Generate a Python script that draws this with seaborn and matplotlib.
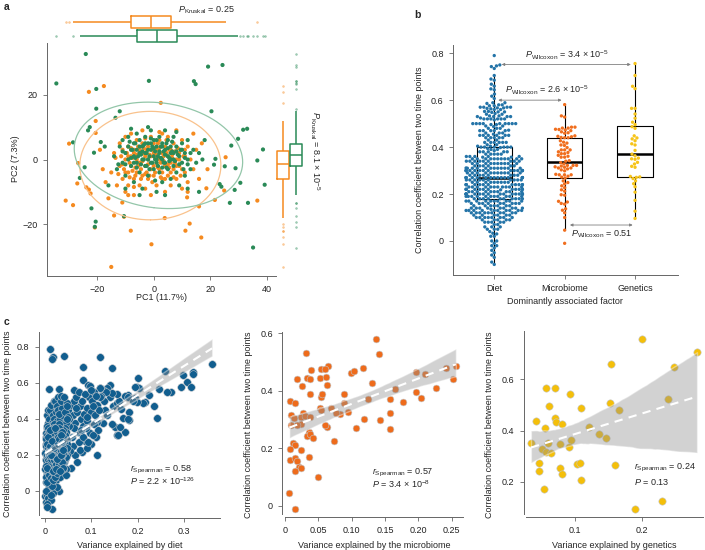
import numpy as np
import pandas as pd
import matplotlib
matplotlib.use('Agg')
import matplotlib.pyplot as plt
import seaborn as sns

# colours
ORANGE = '#F58A1F'
GREEN = '#2A8A57'
DIET = '#115E8F'
MICRO = '#EE6B1B'
GENE = '#F4BF0A'
SWARM = ['#2474A8', '#F06E1E', '#F6C41A']

# ---- panel a: PC1 / PC2 of the two groups ----
pc_orange = np.array([
    (-15, -4), (-14, 2), (-13, -8), (-12, 5), (-12, -2), (-11, -6), (-11, 3), (-10, -10), (-10, 0), (-10, 7),
    (-9, -4), (-9, 4), (-9, -8), (-8, 1), (-8, -2), (-8, 8), (-7, -6), (-7, 3), (-7, -11), (-6, 0),
    (-6, 6), (-6, -4), (-5, -8), (-5, 2), (-5, -1), (-4, 5), (-4, -5), (-4, 9), (-3, -2), (-3, 1),
    (-3, -9), (-2, 4), (-2, -6), (-2, 0), (-1, 7), (-1, -3), (-1, -11), (0, 2), (0, -5), (0, 5),
    (1, -1), (1, -8), (1, 3), (2, 6), (2, -3), (2, 0), (3, -6), (3, 8), (3, 2), (4, -2),
    (4, 4), (4, -10), (5, 1), (5, -5), (5, 7), (6, -1), (6, 3), (6, -8), (7, 5), (7, -3),
    (8, 0), (8, -6), (8, 9), (9, 2), (9, -2), (10, 6), (10, -9), (11, 1), (11, -4), (12, 4),
    (12, -7), (13, 0), (14, -3), (15, 3), (16, -6),
    (-13.5, 0.5), (-12.5, -4.5), (-11.5, 1), (-10.5, -3), (-9.5, 2), (-8.5, -5.5), (-7.5, 0.5), (-6.5, -2.5),
    (-5.5, 4), (-4.5, -3), (-3.5, 3.5), (-2.5, -4), (-1.5, 1.5), (-0.5, -7), (0.5, 0.5), (1.5, 5),
    (2.5, -5.5), (3.5, -0.5), (4.5, 6), (5.5, -2.5), (6.5, 1.5), (7.5, -1), (8.5, 3.5), (9.5, -5),
    (10.5, 1), (-7, -8.5), (-3, 6.5), (2, 8.5), (-9, -11), (12, -10),
    (-11, -1.5), (-10, -4), (-9, 1), (-8.5, -1), (-8, 3.5), (-7.5, -3.5), (-7, 2), (-6.5, -5),
    (-6, 1.5), (-5.5, -2), (-5, 3), (-4.5, -6), (-4, -0.5), (-3.5, 2), (-3, -4.5), (-2.5, 3),
    (-2, -1.5), (-1.5, -5), (-1, 1), (-0.5, 3), (0, -2), (0.5, -4), (1, 1.5), (1.5, -2.5),
    (2, 3.5), (2.5, -1), (3, -4), (3.5, 1), (4, -6), (4.5, 2), (5, -1.5), (5.5, 3),
    (6, -4), (6.5, 0.5), (7, -5.5), (7.5, 2.5), (8, -2), (9, 0), (10, -3), (11, 3),
    (-22.9, 20.9), (-17.6, 22.7), (-20.5, 8.2), (-29.9, 4.9), (-26.7, -1.1), (-27, -7.4), (-31.1, -12.7),
    (-28.5, -14.1), (-23.8, -8.6), (-22.9, -9.3), (-22.3, -10.5), (-14, -17.3), (-20.8, -21), (-8.1, -22),
    (-0.8, -26.2), (-15, -33.2), (-10.5, -17.7), (-11.1, -13.3), (2.5, 17.5), (25.4, 0.7), (24.9, -9.6),
    (21.6, -12.5), (36.6, -12.7), (16, -14.5), (12.7, -19.8), (11.2, -22), (16.8, -24.1), (3.9, -18.1),
    (11.8, -11.7), (18.6, -8.9), (-20.5, 11.9), (-18, -3), (-19, 3), (-17, -7), (17, 5), (19, -3),
    (14, 8), (-16, -12),
])
pc_green = np.array([
    (-14, 1), (-13, -3), (-12, 4), (-11, -1), (-11, 6), (-10, 2), (-10, -5), (-9, 0), (-9, 7), (-8, 3),
    (-8, -2), (-7, 5), (-7, -7), (-7, 1), (-6, -1), (-6, 8), (-6, 3), (-5, 2), (-5, -4), (-5, 6),
    (-4, 0), (-4, 4), (-4, -9), (-3, 2), (-3, -2), (-3, 7), (-2, 5), (-2, 0), (-2, -5), (-1, 3),
    (-1, -1), (-1, 9), (0, 1), (0, 6), (0, -3), (1, 4), (1, -1), (1, -10), (2, 2), (2, 7),
    (2, -4), (3, 0), (3, 5), (3, -7), (4, 3), (4, -1), (4, 9), (5, 1), (5, 6), (5, -3),
    (6, 4), (6, -6), (6, 0), (7, 2), (7, 7), (7, -2), (8, -4), (8, 4), (9, 1), (9, -8),
    (10, 5), (10, -1), (11, 2), (11, -5), (12, 6), (12, 0), (13, -3), (14, 3), (15, -1), (16, 2),
    (-12.5, -1.5), (-8.5, 5.5), (-6.5, 0.5), (-4.5, 1.5), (-3.5, 4.5), (-2.5, 2), (-1.5, -3), (-0.5, 4),
    (0.5, 2.5), (1.5, 1), (2.5, 4), (3.5, 2.5), (4.5, 5), (5.5, 0.5), (6.5, 2.5), (7.5, -0.5),
    (8.5, 1.5), (9.5, 3), (10.5, -3), (-10, -9), (-5, -11), (0.5, -6.5), (4, -11), (8, 8.5),
    (-2, 10), (12, -9), (-8, 9.5), (3, -2.5), (-1, 6.5), (1, 0),
    (-11, 2.5), (-10, -1.5), (-9, 4), (-8, 0.5), (-7.5, 3), (-7, -1), (-6.5, 5), (-6, -2.5),
    (-5.5, 1), (-5, 4), (-4.5, -1.5), (-4, 2.5), (-3.5, 0), (-3, 5), (-2.5, -2), (-2, 3),
    (-1.5, 1), (-1, 5), (-0.5, -1), (0, 3.5), (0.5, 0), (1, 6), (1.5, -2), (2, 2.5),
    (2.5, 0.5), (3, 4), (3.5, -1), (4, 1.5), (4.5, -2.5), (5, 3.5), (5.5, -0.5), (6, 2),
    (6.5, 5.5), (7, 0), (8, 2.5), (9, -1.5), (10, 3), (11, 0.5), (12, -1.5), (13, 2),
    (-24, 32.6), (-34.4, 23.5), (-20.3, 21.8), (-1.7, 24.3), (-20.3, 15.7), (-13.5, 12.9), (-12, 14.9),
    (-22.6, 10), (-23.2, 9), (-28.5, 5.3), (-24.4, -2.4), (-26.1, -5.7), (-22, -15.1), (-20.5, -19.2),
    (-20.8, -20.8), (-10.5, -17.5), (-17.3, 4), (-18.7, 5.4), (-21.1, 2.1), (19.2, 28.7), (24.3, 29.2),
    (14.2, 24.2), (14.8, 23.3), (20.4, 14.9), (31.6, 9.2), (33, 9.5), (29.8, 6.4), (27.4, 4.3),
    (38.6, 3.1), (21.8, 0.2), (21.3, -1.6), (25.1, -2.1), (36.6, -0.3), (28.9, -2.7), (23.3, -7.6),
    (23.9, -8.4), (28.6, -9.4), (30.6, -7.2), (39.2, -7.8), (26.9, -13.4), (33.3, -13.4), (35.1, -27.2),
    (17.2, 0), (18, 6), (-16, -8), (16, -10),
])

# ---- panels b and c: (variance explained, correlation between time points) ----
diet_pts = np.array([
    # high variance explained
    (0.36, 0.705), (0.32, 0.66), (0.318, 0.648), (0.259, 0.668), (0.298, 0.644), (0.305, 0.607),
    (0.315, 0.576), (0.293, 0.576), (0.272, 0.552), (0.262, 0.548), (0.246, 0.567), (0.201, 0.626),
    (0.198, 0.58), (0.203, 0.57), (0.224, 0.533), (0.216, 0.496), (0.212, 0.487), (0.18, 0.533),
    (0.194, 0.516), (0.198, 0.496), (0.236, 0.472), (0.241, 0.404), (0.181, 0.44), (0.181, 0.394),
    (0.173, 0.33), (0.151, 0.357), (0.155, 0.311), (0.158, 0.31), (0.162, 0.357), (0.169, 0.404),
    (0.18, 0.398), (0.147, 0.47), (0.155, 0.49), (0.16, 0.5), (0.172, 0.53), (0.18, 0.52),
    (0.155, 0.54), (0.14, 0.589), (0.133, 0.57), (0.126, 0.563), (0.145, 0.685), (0.14, 0.524),
    (0.144, 0.543), (0.131, 0.552), (0.194, 0.58), (0.12, 0.57), (0.13, 0.45), (0.125, 0.38),
    (0.135, 0.42), (0.145, 0.37), (0.128, 0.5), (0.122, 0.53), (0.165, 0.455), (0.19, 0.5),
    # middle
    (0.119, 0.743), (0.083, 0.69), (0.082, 0.617), (0.094, 0.589), (0.097, 0.586), (0.119, 0.57),
    (0.112, 0.2), (0.08, 0.218), (0.112, 0.385),
    (0.05, 0.45), (0.055, 0.48), (0.06, 0.42), (0.062, 0.5), (0.065, 0.38), (0.068, 0.52), (0.07, 0.44),
    (0.072, 0.33), (0.075, 0.47), (0.078, 0.4), (0.08, 0.5), (0.082, 0.36), (0.085, 0.43), (0.087, 0.28),
    (0.09, 0.46), (0.092, 0.39), (0.095, 0.52), (0.097, 0.32), (0.1, 0.44), (0.1, 0.26), (0.102, 0.5),
    (0.105, 0.37), (0.107, 0.55), (0.108, 0.42), (0.11, 0.3), (0.112, 0.48), (0.115, 0.34), (0.117, 0.45),
    (0.118, 0.52), (0.058, 0.3), (0.06, 0.25), (0.063, 0.35), (0.066, 0.2), (0.07, 0.16), (0.073, 0.27),
    (0.076, 0.23), (0.083, 0.3), (0.088, 0.35), (0.09, 0.24), (0.093, 0.27), (0.052, 0.36), (0.054, 0.22),
    (0.057, 0.13), (0.064, 0.56), (0.074, 0.55), (0.086, 0.54), (0.099, 0.56), (0.104, 0.47), (0.11, 0.53),
    (0.052, 0.4), (0.067, 0.46), (0.079, 0.34), (0.091, 0.41), (0.103, 0.31),
    # low variance explained
    (0.011, 0.79), (0.018, 0.746), (0.015, 0.735), (0.042, 0.75), (0.009, 0.567), (0.031, 0.565),
    (0.015, -0.1), (0.001, -0.03), (0.003, -0.06), (0.03, 0.0), (0.011, 0.033), (0.026, 0.135), (0.033, 0.1),
    (0.002, 0.05), (0.003, 0.12), (0.004, 0.2), (0.005, 0.28), (0.006, 0.35), (0.004, 0.42), (0.007, 0.45),
    (0.005, -0.02), (0.008, 0.08), (0.006, 0.16), (0.009, 0.24), (0.007, 0.31), (0.008, 0.38), (0.003, 0.26),
    (0.009, 0.02), (0.01, 0.14), (0.006, 0.1), (0.008, 0.21), (0.004, 0.33), (0.01, 0.4), (0.002, 0.18),
    (0.007, -0.04), (0.009, 0.3), (0.005, 0.07),
    (0.011, 0.22), (0.012, 0.05), (0.013, 0.3), (0.012, 0.45), (0.014, 0.15), (0.015, 0.38), (0.016, 0.26),
    (0.017, -0.01), (0.013, 0.1), (0.018, 0.33), (0.019, 0.19), (0.014, 0.48), (0.016, 0.08), (0.011, 0.36),
    (0.018, 0.42), (0.02, 0.27), (0.015, 0.21), (0.017, 0.12), (0.012, 0.17), (0.019, 0.5), (0.013, 0.25),
    (0.016, 0.34), (0.02, 0.04), (0.014, -0.05), (0.018, 0.16), (0.011, 0.28),
    (0.021, 0.18), (0.022, 0.32), (0.023, 0.09), (0.024, 0.44), (0.025, 0.24), (0.026, 0.36), (0.027, 0.14),
    (0.028, 0.29), (0.022, 0.5), (0.029, 0.21), (0.021, 0.4), (0.024, 0.06), (0.026, 0.47), (0.023, 0.26),
    (0.028, 0.11), (0.03, 0.33), (0.025, 0.17), (0.027, 0.39), (0.029, 0.52), (0.022, 0.23), (0.03, 0.19),
    (0.024, 0.31), (0.026, 0.02), (0.028, 0.45),
    (0.031, 0.28), (0.032, 0.15), (0.033, 0.4), (0.034, 0.22), (0.035, 0.35), (0.036, 0.1), (0.037, 0.46),
    (0.038, 0.3), (0.039, 0.18), (0.034, 0.5), (0.032, 0.08), (0.036, 0.25), (0.038, 0.42), (0.04, 0.2),
    (0.033, 0.34), (0.037, 0.13), (0.035, 0.53), (0.039, 0.37), (0.031, 0.43), (0.04, 0.27),
    (0.041, 0.32), (0.042, 0.16), (0.043, 0.44), (0.044, 0.24), (0.045, 0.38), (0.046, 0.12), (0.047, 0.49),
    (0.048, 0.29), (0.049, 0.2), (0.05, 0.41), (0.043, 0.35), (0.045, 0.09), (0.047, 0.26), (0.049, 0.47),
    (0.042, 0.52), (0.046, 0.33), (0.044, 0.18), (0.048, 0.4),
    (0.003, 0.22), (0.005, 0.15), (0.007, 0.27), (0.009, 0.19), (0.011, 0.11), (0.013, 0.2), (0.015, 0.29),
    (0.017, 0.23), (0.019, 0.13), (0.021, 0.26), (0.023, 0.16), (0.025, 0.3), (0.027, 0.22), (0.029, 0.15),
    (0.031, 0.2), (0.033, 0.27), (0.035, 0.17), (0.037, 0.23), (0.039, 0.28), (0.041, 0.21), (0.004, 0.09),
    (0.006, 0.24), (0.008, 0.14), (0.01, 0.3), (0.012, 0.24), (0.014, 0.27), (0.016, 0.18), (0.018, 0.25),
    (0.02, 0.14), (0.022, 0.28), (0.024, 0.2), (0.026, 0.25), (0.028, 0.18), (0.03, 0.24), (0.032, 0.3),
    (0.034, 0.14), (0.036, 0.19), (0.038, 0.26), (0.04, 0.16), (0.045, 0.23), (0.002, 0.0), (0.006, -0.07),
    (0.01, 0.06), (0.013, -0.02), (0.016, 0.03), (0.004, -0.09),
    (0.001, 0.12), (0.002, 0.3), (0.003, 0.17), (0.005, 0.23), (0.006, 0.32), (0.007, 0.13), (0.008, 0.27),
    (0.009, 0.1), (0.011, 0.19), (0.012, 0.29), (0.013, 0.14), (0.014, 0.23), (0.015, 0.09), (0.016, 0.31),
    (0.017, 0.17), (0.018, 0.21), (0.019, 0.27), (0.02, 0.1), (0.021, 0.31), (0.022, 0.13), (0.023, 0.2),
    (0.024, 0.27), (0.025, 0.12), (0.026, 0.21), (0.027, 0.3), (0.028, 0.16), (0.029, 0.25), (0.03, 0.12),
    (0.031, 0.17), (0.032, 0.24), (0.033, 0.19), (0.034, 0.31), (0.035, 0.22), (0.036, 0.29), (0.037, 0.18),
    (0.038, 0.21), (0.039, 0.12), (0.041, 0.27), (0.043, 0.2), (0.044, 0.31), (0.046, 0.19), (0.048, 0.24),
    (0.005, 0.36), (0.01, 0.34), (0.015, 0.35), (0.02, 0.37), (0.025, 0.34), (0.03, 0.37), (0.035, 0.3),
    (0.04, 0.34),
    (0.001, 0.21), (0.002, 0.25), (0.003, 0.08), (0.003, 0.32), (0.004, 0.14), (0.004, 0.27), (0.005, 0.19),
    (0.005, 0.31), (0.006, 0.05), (0.006, 0.2), (0.007, 0.17), (0.007, 0.35), (0.008, 0.11), (0.008, 0.24),
    (0.009, 0.16), (0.009, 0.33), (0.01, 0.09), (0.01, 0.22), (0.011, 0.15), (0.011, 0.32), (0.012, 0.12),
    (0.012, 0.21), (0.013, 0.07), (0.013, 0.34), (0.014, 0.18), (0.014, 0.29), (0.015, 0.13), (0.015, 0.25),
    (0.016, 0.22), (0.016, 0.11), (0.017, 0.28), (0.017, 0.06), (0.018, 0.19), (0.018, 0.35), (0.019, 0.1),
    (0.019, 0.23), (0.02, 0.17), (0.02, 0.31), (0.021, 0.12), (0.021, 0.22), (0.022, 0.19), (0.022, 0.08),
    (0.023, 0.29), (0.023, 0.35), (0.024, 0.15), (0.024, 0.23), (0.025, 0.2), (0.025, 0.27), (0.026, 0.1),
    (0.026, 0.29), (0.027, 0.18), (0.027, 0.33), (0.028, 0.22), (0.028, 0.13), (0.029, 0.3), (0.029, 0.17),
    (0.03, 0.27), (0.03, 0.15), (0.031, 0.22), (0.031, 0.35), (0.032, 0.19), (0.032, 0.27), (0.033, 0.13),
    (0.033, 0.23), (0.034, 0.26), (0.034, 0.17), (0.035, 0.2), (0.035, 0.33), (0.036, 0.14), (0.036, 0.22),
    (0.037, 0.29), (0.037, 0.2), (0.038, 0.16), (0.038, 0.33), (0.039, 0.24), (0.039, 0.21), (0.04, 0.3),
    (0.04, 0.13), (0.002, 0.14), (0.003, 0.29), (0.005, 0.26), (0.006, 0.13), (0.008, 0.3), (0.009, 0.2),
    (0.011, 0.25), (0.012, 0.34), (0.014, 0.2), (0.016, 0.28), (0.018, 0.11), (0.02, 0.24), (0.022, 0.35),
    (0.024, 0.12), (0.026, 0.18), (0.028, 0.26), (0.03, 0.29), (0.032, 0.11), (0.034, 0.2), (0.036, 0.31),
    (0.038, 0.27), (0.04, 0.23),
])
micro_pts = np.array([
    (0.136, 0.581), (0.141, 0.528), (0.032, 0.533), (0.040, 0.473), (0.055, 0.475), (0.065, 0.485),
    (0.061, 0.476), (0.018, 0.44), (0.034, 0.446), (0.038, 0.44), (0.053, 0.444), (0.062, 0.448),
    (0.026, 0.417), (0.063, 0.421), (0.038, 0.388), (0.054, 0.38), (0.056, 0.388), (0.099, 0.461),
    (0.104, 0.47), (0.117, 0.481), (0.13, 0.427), (0.088, 0.388), (0.088, 0.357), (0.008, 0.365),
    (0.016, 0.357), (0.124, 0.372), (0.165, 0.407), (0.197, 0.465), (0.21, 0.459), (0.242, 0.481),
    (0.256, 0.485), (0.251, 0.441), (0.226, 0.409), (0.196, 0.398), (0.204, 0.377), (0.177, 0.361),
    (0.158, 0.372), (0.158, 0.322), (0.157, 0.268), (0.142, 0.299), (0.119, 0.303), (0.107, 0.272),
    (0.083, 0.319), (0.076, 0.322), (0.094, 0.328), (0.069, 0.342), (0.074, 0.227), (0.063, 0.276),
    (0.06, 0.282), (0.053, 0.34), (0.055, 0.334), (0.01, 0.316), (0.014, 0.307), (0.01, 0.282),
    (0.028, 0.322), (0.025, 0.311), (0.03, 0.314), (0.038, 0.311), (0.024, 0.284), (0.018, 0.282),
    (0.036, 0.256), (0.034, 0.243), (0.038, 0.249), (0.043, 0.235), (0.013, 0.218), (0.015, 0.212),
    (0.008, 0.197), (0.024, 0.195), (0.036, 0.169), (0.008, 0.16), (0.015, 0.166), (0.018, 0.157),
    (0.021, 0.137), (0.024, 0.131), (0.016, 0.12), (0.05, 0.1), (0.007, 0.046), (0.016, -0.01),
])
gene_pts = np.array([
    (0.201, 0.756), (0.283, 0.705), (0.249, 0.649), (0.154, 0.659), (0.057, 0.565), (0.07, 0.565),
    (0.092, 0.541), (0.061, 0.496), (0.109, 0.487), (0.153, 0.506), (0.166, 0.48), (0.239, 0.523),
    (0.041, 0.439), (0.07, 0.448), (0.072, 0.435), (0.08, 0.427), (0.055, 0.409), (0.121, 0.414),
    (0.136, 0.386), (0.146, 0.37), (0.034, 0.353), (0.06, 0.35), (0.078, 0.348), (0.094, 0.363),
    (0.091, 0.335), (0.051, 0.328), (0.056, 0.318), (0.064, 0.314), (0.046, 0.275), (0.046, 0.244),
    (0.078, 0.256), (0.08, 0.231), (0.103, 0.271), (0.107, 0.273), (0.109, 0.208), (0.16, 0.266),
    (0.054, 0.173), (0.23, 0.127), (0.19, 0.096),
])
factors = ['Diet', 'Microbiome', 'Genetics']

sns.set_style('ticks')
plt.rcParams['font.family'] = ['Liberation Sans', 'DejaVu Sans']
plt.rcParams['font.size'] = 6.5
plt.rcParams['mathtext.fontset'] = 'custom'
plt.rcParams['mathtext.rm'] = 'Liberation Sans'
plt.rcParams['mathtext.it'] = 'Liberation Sans:italic'
plt.rcParams['axes.edgecolor'] = '#666666'
plt.rcParams['axes.linewidth'] = 0.7
plt.rcParams['xtick.color'] = '#666666'
plt.rcParams['ytick.color'] = '#666666'
plt.rcParams['xtick.labelcolor'] = '#222222'
plt.rcParams['ytick.labelcolor'] = '#222222'
plt.rcParams['xtick.major.size'] = 3
plt.rcParams['ytick.major.size'] = 3
plt.rcParams['xtick.major.width'] = 0.6
plt.rcParams['ytick.major.width'] = 0.6
plt.rcParams['xtick.labelsize'] = 6.5
plt.rcParams['ytick.labelsize'] = 6.5

W, H = 705, 550
fig = plt.figure(figsize=(W / 100, H / 100), dpi=100)


def px_axes(l, t, r, b):
    return fig.add_axes([l / W, 1 - b / H, (r - l) / W, (b - t) / H])


def px_text(x, y, s, **kw):
    kw.setdefault('ha', 'center')
    kw.setdefault('va', 'center')
    fig.text(x / W, 1 - y / H, s, **kw)


def trob_ellipse(pts, nu=15, scale=2.47):
    # robust (t-distribution) covariance ellipse, like ggplot's stat_ellipse
    X = np.asarray(pts, float)
    loc = X.mean(0)
    cov = np.cov(X.T)
    for _ in range(100):
        d = X - loc
        q = np.einsum('ij,jk,ik->i', d, np.linalg.inv(cov), d)
        w = (nu + 2) / (nu + q)
        loc = (w[:, None] * X).sum(0) / w.sum()
        d = X - loc
        cov = (w[:, None] * d).T @ d / len(X)
    vals, vecs = np.linalg.eigh(cov)
    t = np.linspace(0, 2 * np.pi, 200)
    circ = np.vstack([np.cos(t), np.sin(t)]) * np.sqrt(vals)[:, None] * scale
    e = vecs @ circ
    return e[0] + loc[0], e[1] + loc[1]


def fill_fliers(ax):
    # seaborn leaves unfilled boxes with hollow fliers; make them solid dots
    for ln in ax.lines:
        if ln.get_marker() not in (None, 'None', ''):
            ln.set_markerfacecolor(ln.get_markeredgecolor())


# ================= panel a =================
df_a = pd.concat([
    pd.DataFrame({'PC1': pc_orange[:, 0], 'PC2': pc_orange[:, 1], 'grp': 'o'}),
    pd.DataFrame({'PC1': pc_green[:, 0], 'PC2': pc_green[:, 1], 'grp': 'g'}),
], ignore_index=True)
pal_a = {'o': ORANGE, 'g': GREEN}

ax_a = px_axes(47, 43, 276, 276)
sns.scatterplot(data=df_a, x='PC1', y='PC2', hue='grp', palette=pal_a, s=9, linewidth=0,
                legend=False, ax=ax_a)
for pts, c in [(pc_orange, '#F9C28C'), (pc_green, '#93C6A9')]:
    ex, ey = trob_ellipse(pts)
    ax_a.plot(ex, ey, color=c, lw=0.9)
ax_a.set_xlim(-37.7, 43.2)
ax_a.set_ylim(-36, 36)
ax_a.set_xticks([-20, 0, 20, 40])
ax_a.set_yticks([-20, 0, 20])
ax_a.set_xlabel('')
ax_a.set_ylabel('')
sns.despine(ax=ax_a)

box_kw = dict(fill=False, linewidth=1.1, fliersize=1.4, legend=False,
              flierprops={'marker': 'o', 'markeredgewidth': 0.3, 'alpha': 0.45},
              capprops={'visible': False})
ax_top = px_axes(47, 14.7, 276, 42.7)
sns.boxplot(data=df_a, x='PC1', y='grp', hue='grp', palette=pal_a, orient='h', width=0.88,
            ax=ax_top, **box_kw)
fill_fliers(ax_top)
ax_top.set_xlim(ax_a.get_xlim())
ax_top.set_ylim(1.5, -0.5)
ax_top.axis('off')

ax_right = px_axes(275.9, 43, 303.1, 276)
sns.boxplot(data=df_a, x='grp', y='PC2', hue='grp', palette=pal_a, width=0.88,
            ax=ax_right, **box_kw)
fill_fliers(ax_right)
ax_right.set_ylim(ax_a.get_ylim())
ax_right.set_xlim(-0.5, 1.5)
ax_right.axis('off')

px_text(206, 10, r'$\mathit{P}_{\mathrm{Kruskal}}$ = 0.25')
px_text(315, 151, r'$\mathit{P}_{\mathrm{Kruskal}}$ = 8.1 × 10$^{-5}$', rotation=270)
px_text(161.5, 297, 'PC1 (11.7%)')
px_text(15, 159, 'PC2 (7.3%)', rotation=90)
px_text(4, 7, 'a', fontweight='bold', fontsize=7.5, ha='left')

# ================= panel b =================
df_b = pd.concat([
    pd.DataFrame({'factor': 'Diet', 'cor': diet_pts[:, 1]}),
    pd.DataFrame({'factor': 'Microbiome', 'cor': micro_pts[:, 1]}),
    pd.DataFrame({'factor': 'Genetics', 'cor': gene_pts[:, 1]}),
], ignore_index=True)

ax_b = px_axes(452.7, 45, 678, 275)
sns.swarmplot(data=df_b, x='factor', y='cor', hue='factor', order=factors,
              palette=SWARM, size=2.4, linewidth=0, legend=False, ax=ax_b)
sns.boxplot(data=df_b, x='factor', y='cor', order=factors, fill=False, color='black',
            linecolor='black', width=0.5, showfliers=False, linewidth=0.8,
            medianprops={'linewidth': 1.8}, capprops={'visible': False}, ax=ax_b)
ax_b.set_xlim(-0.59, 2.61)
ax_b.set_ylim(-0.145, 0.835)
ax_b.set_yticks([0, 0.2, 0.4, 0.6, 0.8], ['0', '0.2', '0.4', '0.6', '0.8'])
ax_b.set_xlabel('')
ax_b.set_ylabel('')
sns.despine(ax=ax_b)

arrow = dict(arrowstyle='<|-|>', color='#808080', lw=0.6, mutation_scale=4, shrinkA=0, shrinkB=0)
ax_b.annotate('', xy=(1.94, 0.752), xytext=(0.105, 0.752), arrowprops=arrow)
ax_b.annotate('', xy=(0.957, 0.6), xytext=(0.057, 0.6), arrowprops=arrow)
ax_b.annotate('', xy=(1.966, 0.068), xytext=(1.075, 0.068), arrowprops=arrow)
ax_b.text(1.03, 0.79, r'$\mathit{P}_{\mathrm{Wilcoxon}}$ = 3.4 × 10$^{-5}$', ha='center', va='center')
ax_b.text(0.744, 0.643, r'$\mathit{P}_{\mathrm{Wilcoxon}}$ = 2.6 × 10$^{-5}$', ha='center', va='center')
ax_b.text(1.52, 0.03, r'$\mathit{P}_{\mathrm{Wilcoxon}}$ = 0.51', ha='center', va='center')

px_text(420, 160, 'Correlation coefficient between two time points', rotation=90)
px_text(565, 301.7, 'Dominantly associated factor')
px_text(414, 15, 'b', fontweight='bold', fontsize=7.5, ha='left')


# ================= panel c =================
def corr_panel(ax, pts, color, size):
    x, y = pts[:, 0], pts[:, 1]
    sns.scatterplot(x=x, y=y, color=color, s=size, edgecolor='#c4c8cc', linewidth=0.4, ax=ax)
    sns.regplot(x=x, y=y, scatter=False, color='black', seed=1, line_kws={'alpha': 0}, ax=ax)
    band = ax.collections[-1]
    band.set_facecolor('#8f8f8f')
    band.set_alpha(0.4)
    sns.regplot(x=x, y=y, scatter=False, ci=None, color='white',
                line_kws={'ls': (0, (4, 3)), 'lw': 1.5}, ax=ax)
    ax.set_xlabel('')
    ax.set_ylabel('')
    sns.despine(ax=ax, offset=2)


ax_c1 = px_axes(41.3, 331.7, 220, 515.3)
corr_panel(ax_c1, diet_pts, DIET, 30)
ax_c1.set_xlim(-0.0073, 0.377)
ax_c1.set_ylim(-0.135, 0.885)
ax_c1.set_xticks([0, 0.1, 0.2, 0.3], ['0', '0.1', '0.2', '0.3'])
ax_c1.set_yticks([0, 0.2, 0.4, 0.6, 0.8], ['0', '0.2', '0.4', '0.6', '0.8'])
ax_c1.text(0.183, 0.117, r'$\mathit{r}_{\mathrm{Spearman}}$ = 0.58', va='center')
ax_c1.text(0.183, 0.052, r'$\mathit{P}$ = 2.2 × 10$^{-126}$', va='center')

ax_c2 = px_axes(284.7, 331.7, 463, 514.3)
corr_panel(ax_c2, micro_pts, MICRO, 24)
ax_c2.set_xlim(0.0006, 0.2667)
ax_c2.set_ylim(-0.029, 0.606)
ax_c2.set_xticks([0, 0.05, 0.1, 0.15, 0.2, 0.25], ['0', '0.05', '0.10', '0.15', '0.20', '0.25'])
ax_c2.set_yticks([0, 0.2, 0.4, 0.6], ['0', '0.2', '0.4', '0.6'])
ax_c2.text(0.13, 0.116, r'$\mathit{r}_{\mathrm{Spearman}}$ = 0.57', va='center')
ax_c2.text(0.13, 0.076, r'$\mathit{P}$ = 3.4 × 10$^{-8}$', va='center')

ax_c3 = px_axes(526.3, 331, 703, 514.3)
corr_panel(ax_c3, gene_pts, GENE, 28)
ax_c3.set_xlim(0.027, 0.292)
ax_c3.set_ylim(0.074, 0.788)
ax_c3.set_xticks([0.1, 0.2], ['0.1', '0.2'])
ax_c3.set_yticks([0.2, 0.4, 0.6], ['0.2', '0.4', '0.6'])
ax_c3.text(0.189, 0.253, r'$\mathit{r}_{\mathrm{Spearman}}$ = 0.24', va='center')
ax_c3.text(0.189, 0.201, r'$\mathit{P}$ = 0.13', va='center')

px_text(8, 424, 'Correlation coefficient between two time points', rotation=90)
px_text(248.3, 425, 'Correlation coefficient between two time points', rotation=90)
px_text(490, 425, 'Correlation coefficient between two time points', rotation=90)
px_text(130, 545.5, 'Variance explained by diet')
px_text(374, 545, 'Variance explained by the microbiome')
px_text(614, 545, 'Variance explained by genetics')
px_text(4, 322, 'c', fontweight='bold', fontsize=7.5, ha='left')

fig.savefig('out.png', dpi=100)
